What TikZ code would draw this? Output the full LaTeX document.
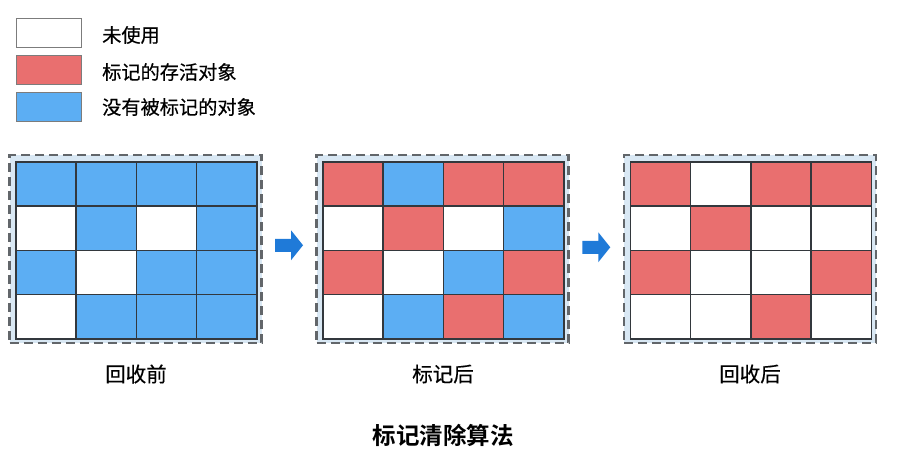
\documentclass[tikz,border=0pt]{standalone}
\usepackage{fontspec}
\usetikzlibrary{calc}
\newfontfamily\cjk[FakeBold=0.4]{Noto Sans CJK SC}
\newfontfamily\cjkb{Noto Sans CJK SC Bold}
\definecolor{cR}{HTML}{E96F6F}
\definecolor{cB}{HTML}{5CAEF3}
\colorlet{cW}{white}
\definecolor{cbg}{HTML}{D9E8F4}
\definecolor{cdash}{HTML}{62666A}
\definecolor{cgrid}{HTML}{33383D}
\definecolor{carrow}{HTML}{1F7AD8}
\definecolor{clegline}{HTML}{7C7C7C}
\begin{document}
\begin{tikzpicture}[x=1pt,y=-1pt,
  cell/.style={draw=cgrid,line width=1.5pt,minimum width=60.25pt,minimum height=44.25pt,inner sep=0pt,anchor=north west},
  frame/.style={draw=cdash,fill=cbg,line width=2.2pt,dash pattern=on 9pt off 5pt,minimum width=252pt,minimum height=188pt,inner sep=0pt},
  legbox/.style={draw=clegline,line width=1.3pt,minimum width=65pt,minimum height=29pt,inner sep=0pt,anchor=north west},
  legtext/.style={anchor=west,font=\cjk\fontsize{19.2}{21}\selectfont,inner sep=0pt},
  label/.style={font=\cjk\fontsize{20.5}{23}\selectfont,inner sep=0pt},
  arrowshape/.style={fill=carrow}
]
\useasboundingbox (0,0) rectangle (904,458);
% legend
\node[legbox,fill=cW] (lg1) at (16,18) {};
\node[legbox,fill=cR] (lg2) at (16,55) {};
\node[legbox,fill=cB] (lg3) at (16,92) {};
\node[legtext] (lt1) at (102,35) {未使用};
\node[legtext] (lt2) at (102,72) {标记的存活对象};
\node[legtext] (lt3) at (102,107) {没有被标记的对象};
% frames
\node[frame] (f1) at (135.5,249.25) {};
\node[frame] (f2) at (442.5,249.25) {};
\node[frame] (f3) at (750,249.25) {};
% panel 1
\foreach \r/\cols in {1/{B,B,B,B},2/{W,B,W,B},3/{B,W,B,B},4/{W,B,B,B}}{
  \foreach \c [count=\k] in \cols {
    \node[cell,fill=c\c] (p1-\r-\k) at ({15+60.25*(\k-1)},{161+44.25*(\r-1)}) {};
  }
}
% panel 2
\foreach \r/\cols in {1/{R,B,R,R},2/{W,R,W,B},3/{R,W,B,R},4/{W,B,R,B}}{
  \foreach \c [count=\k] in \cols {
    \node[cell,fill=c\c] (p2-\r-\k) at ({322+60.25*(\k-1)},{161+44.25*(\r-1)}) {};
  }
}
% panel 3
\foreach \r/\cols in {1/{R,W,R,R},2/{W,R,W,W},3/{R,W,W,R},4/{W,W,R,W}}{
  \foreach \c [count=\k] in \cols {
    \node[cell,fill=c\c] (p3-\r-\k) at ({629.5+60.25*(\k-1)},{161+44.25*(\r-1)}) {};
  }
}
% arrows
\coordinate (a1) at ($(f1.east)!0.5!(f2.west)+(0,-4)$);
\coordinate (a2) at ($(f2.east)!0.5!(f3.west)+(0,-2)$);
\foreach \a in {a1,a2}{
  \fill[arrowshape] ($(\a)+(-14,-6.5)$) -- ($(\a)+(2,-6.5)$) -- ($(\a)+(2,-15)$) -- ($(\a)+(14,0)$)
     -- ($(\a)+(2,15)$) -- ($(\a)+(2,6.5)$) -- ($(\a)+(-14,6.5)$) -- cycle;
}
% labels
\node[label] (l1) at (136,374) {回收前};
\node[label] (l2) at (443,374) {标记后};
\node[label] (l3) at (750,374) {回收后};
\node[font=\cjkb\fontsize{23.5}{26}\selectfont,inner sep=0pt] (title) at (443,435) {标记清除算法};
\end{tikzpicture}
\end{document}
